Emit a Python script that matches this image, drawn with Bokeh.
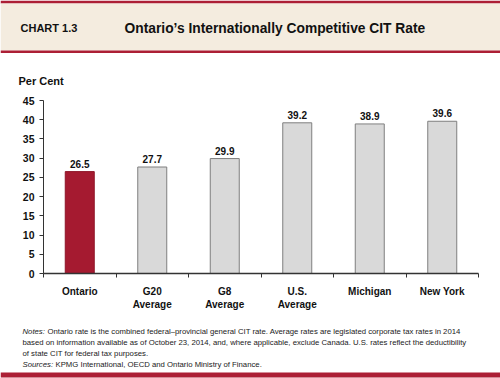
from bokeh.plotting import figure
from bokeh.layouts import column
from bokeh.models import Range1d, FixedTicker
from bokeh.core.properties import value
from bokeh.embed import file_html
from bokeh.resources import INLINE

# ---- data ----
categories = ["Ontario", "G20 Average", "G8 Average", "U.S. Average", "Michigan", "New York"]
tick_labels = ["Ontario", "G20\nAverage", "G8\nAverage", "U.S.\nAverage", "Michigan", "New York"]
rates = [26.5, 27.7, 29.9, 39.2, 38.9, 39.6]
y_ticks = [0, 5, 10, 15, 20, 25, 30, 35, 40, 45]

chart_no = "CHART 1.3"
title = "Ontario\u2019s Internationally Competitive CIT Rate"
y_title = "Per Cent"
notes_lines = [
    ("Notes:", "Ontario rate is the combined federal\u2013provincial general CIT rate.  Average rates are legislated corporate tax rates in 2014"),
    ("", "based on information available as of October 23, 2014, and, where applicable, exclude Canada. U.S. rates reflect the deductibility"),
    ("", "of state  CIT  for federal tax purposes."),
    ("Sources:", "KPMG International,  OECD and Ontario Ministry of Finance."),
]

FONT = "Liberation Sans"
RED = "#AC1F35"
BAR_RED = "#A51A30"
BEIGE = "#F4ECDF"
GRAY_FILL = "#D9D9D9"
GRAY_LINE = "#7F7F7F"
W = 500


def blank(h):
    f = figure(width=W, height=h, x_range=Range1d(0, W), y_range=Range1d(h, 0),
               output_backend="svg", toolbar_location=None,
               x_axis_type=None, y_axis_type=None,
               min_border=0, min_border_left=0, min_border_right=0,
               min_border_top=0, min_border_bottom=0)
    f.grid.visible = False
    f.outline_line_color = None
    f.background_fill_color = "white"
    f.border_fill_color = "white"
    f.frame_align = False
    return f

# ---- header ----
HH = 92
header = blank(HH)
header.quad(left=[0], right=[W], top=[0], bottom=[3], fill_color=RED, line_color=None)
header.quad(left=[0], right=[W], top=[3], bottom=[50], fill_color=BEIGE, line_color=None)
header.quad(left=[0], right=[W], top=[50], bottom=[52.5], fill_color=RED, line_color=None)
header.text(x=[20], y=[27.5], text=[chart_no], text_font=value(FONT), text_font_style="bold",
            text_font_size="11px", text_baseline="middle", text_color="#111111")
header.text(x=[124], y=[27.5], text=[title], text_font=value(FONT), text_font_style="bold",
            text_font_size="13.8px", text_baseline="middle", text_color="#111111")
header.text(x=[18], y=[80], text=[y_title], text_font=value(FONT), text_font_style="bold",
            text_font_size="11px", text_baseline="middle", text_color="#111111")

# ---- main chart ----
xs = [i + 0.5 for i in range(len(categories))]
bounds = list(range(len(categories) + 1))
fills = [BAR_RED if c == "Ontario" else GRAY_FILL for c in categories]
lines = ["#8E1628" if c == "Ontario" else GRAY_LINE for c in categories]

p = figure(width=W, height=220, x_range=Range1d(0, len(categories)), y_range=Range1d(0, 45),
           output_backend="svg", toolbar_location=None,
           min_border_left=43, min_border_right=22, min_border_top=8, min_border_bottom=38)
p.grid.visible = False
p.outline_line_color = None
p.frame_align = False

p.vbar(x=xs, top=rates, width=0.4, bottom=0, fill_color=fills, line_color=lines, line_width=1)
p.text(x=xs, y=rates, text=[f"{v:.1f}" for v in rates], text_font=value(FONT),
       text_font_style="bold", text_font_size="10px", text_align="center",
       text_baseline="bottom", y_offset=-4, text_color="#111111")

ya = p.yaxis[0]
ya.ticker = FixedTicker(ticks=y_ticks)
ya.major_label_text_font = FONT
ya.major_label_text_font_style = "bold"
ya.major_label_text_font_size = "10.5px"
ya.major_label_text_color = "#111111"
ya.major_tick_out = 4
ya.major_tick_in = 0
ya.minor_tick_out = 0
ya.minor_tick_in = 0
ya.major_label_standoff = 5
ya.axis_line_color = "#333333"
ya.major_tick_line_color = "#333333"

xa = p.xaxis[0]
xa.ticker = FixedTicker(ticks=xs, minor_ticks=bounds)
xa.major_label_overrides = {x: lab for x, lab in zip(xs, tick_labels)}
xa.major_label_text_font = FONT
xa.major_label_text_font_style = "bold"
xa.major_label_text_font_size = "10px"
xa.major_label_text_color = "#111111"
xa.major_tick_out = 0
xa.major_tick_in = 0
xa.minor_tick_out = 4
xa.minor_tick_in = 0
xa.minor_tick_line_color = "#333333"
xa.major_label_standoff = 8
xa.axis_line_color = "#333333"
xa.axis_line_width = 1.3

# ---- notes ----
NH = 66
notes = blank(NH)
ys = [19, 30, 41, 51.5]
NSIZE = "7.75px"
for (lead, rest), y in zip(notes_lines, ys):
    if lead:
        notes.text(x=[22], y=[y], text=[lead], text_font=value(FONT), text_font_style="italic",
                   text_font_size=NSIZE, text_baseline="middle", text_color="#1a1a1a")
        xr = 47 if lead == "Notes:" else 55
        notes.text(x=[xr], y=[y], text=[rest], text_font=value(FONT),
                   text_font_size=NSIZE, text_baseline="middle", text_color="#1a1a1a")
    else:
        notes.text(x=[22], y=[y], text=[rest], text_font=value(FONT),
                   text_font_size=NSIZE, text_baseline="middle", text_color="#1a1a1a")
notes.quad(left=[0], right=[W], top=[60], bottom=[65], fill_color=RED, line_color=None)

layout = column(header, p, notes, spacing=0)
open("out.html", "w").write(file_html(layout, INLINE))
